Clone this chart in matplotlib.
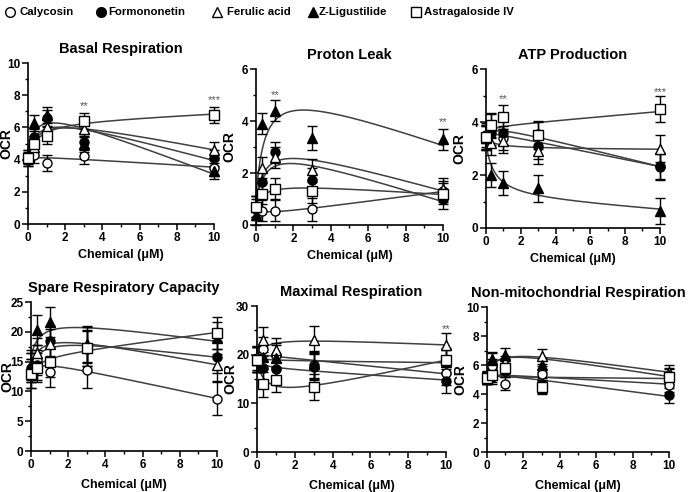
import numpy as np
import matplotlib
matplotlib.use("Agg")
import matplotlib.pyplot as plt
from matplotlib.lines import Line2D
from matplotlib.ticker import MultipleLocator

plt.rcParams['font.family'] = ['Liberation Sans', 'DejaVu Sans']
plt.rcParams['font.weight'] = 'bold'

# concentrations (uM)
conc = [0, 0.3, 1, 3, 10]
compounds = ["Calycosin", "Formononetin", "Ferulic acid", "Z-Ligustilide", "Astragaloside IV"]

# mean OCR per panel, rows follow `compounds`
basal = [[4.0, 4.3, 3.8, 4.2, 3.5],
         [4.0, 5.4, 6.6, 5.1, 4.1],
         [4.2, 4.8, 6.0, 5.9, 4.6],
         [4.2, 6.3, 6.8, 5.0, 3.3],
         [4.1, 5.0, 5.5, 6.4, 6.8]]
basal_err = [0.4, 0.5, 0.5, 0.5, 0.5]

proton = [[0.6, 0.55, 0.55, 0.6, 1.3],
          [0.7, 1.65, 2.8, 1.75, 1.0],
          [0.7, 2.2, 2.6, 2.1, 1.4],
          [0.4, 3.9, 4.4, 3.35, 3.3],
          [0.7, 1.2, 1.4, 1.3, 1.2]]
proton_err = [0.4, 0.4, 0.4, 0.45, 0.4]

atp = [[3.45, 3.85, 3.4, 3.55, 2.3],
       [3.5, 3.6, 3.6, 3.1, 2.35],
       [3.4, 3.2, 3.3, 2.9, 3.0],
       [3.4, 2.0, 1.7, 1.5, 0.65],
       [3.45, 3.9, 4.2, 3.5, 4.5]]
atp_err = [0.45, 0.45, 0.45, 0.5, 0.5]

spare = [[13.0, 15.3, 13.3, 13.6, 8.8],
         [14.0, 14.5, 18.5, 17.2, 15.8],
         [14.0, 16.5, 18.0, 17.8, 14.5],
         [14.5, 20.3, 21.7, 18.0, 19.0],
         [13.0, 14.0, 15.0, 17.3, 19.8]]
spare_err = [2.5, 2.5, 2.5, 3.0, 2.7]

maximal = [[19.3, 21.2, 19.9, 17.8, 16.3],
           [19.0, 17.2, 17.0, 17.5, 14.6],
           [19.0, 23.1, 20.9, 23.1, 22.0],
           [19.0, 19.5, 19.4, 18.0, 18.5],
           [19.0, 13.9, 14.8, 13.4, 18.9]]
maximal_err = [2.5, 2.5, 2.5, 2.7, 2.5]

nonmito = [[5.1, 5.9, 4.7, 5.4, 4.65],
           [5.1, 5.2, 5.6, 4.6, 3.9],
           [5.1, 6.35, 6.2, 6.6, 5.5],
           [5.2, 6.4, 6.7, 6.0, 5.3],
           [5.1, 5.3, 5.8, 4.5, 5.2]]
nonmito_err = [0.4, 0.5, 0.45, 0.5, 0.5]

# significance marks: (x, y, text)
basal_sig = [(3, 7.3, "**"), (10, 7.7, "***")]
proton_sig = [(1, 5.0, "**"), (10, 3.95, "**")]
atp_sig = [(1, 4.85, "**"), (10, 5.15, "***")]
maximal_sig = [(10, 25.3, "**")]

styles = [dict(marker='o', mfc='white'),
          dict(marker='o', mfc='black'),
          dict(marker='^', mfc='white'),
          dict(marker='^', mfc='black'),
          dict(marker='s', mfc='white')]

W, H = 690, 492


def fit_curve(x, y):
    # saturating + linear trend, least squares
    x = np.asarray(x, float)
    y = np.asarray(y, float)
    k = 0.5
    A = np.column_stack([np.ones_like(x), x / (k + x), x])
    coef = np.linalg.lstsq(A, y, rcond=None)[0]
    xs = np.linspace(0, 10, 300)
    ys = coef[0] + coef[1] * xs / (k + xs) + coef[2] * xs
    return xs, ys


def panel(rect, title, data, err, ymax, ymajor, yminor, sig=(), xlabpad=4, ylab_off=20):
    ax = fig.add_axes(rect)
    for i, row in enumerate(data):
        xs, ys = fit_curve(conc, row)
        ax.plot(xs, ys, color='#404040', lw=1.1, zorder=2, clip_on=False)
    for i, row in enumerate(data):
        ax.errorbar(conc, row, yerr=err, fmt='none', ecolor='black',
                    elinewidth=1.0, capsize=3.5, capthick=1.0, zorder=3, clip_on=False)
        ax.plot(conc, row, ls='none', mec='black', mew=1.0, ms=6.5,
                zorder=4, clip_on=False, **styles[i])
    for x, y, t in sig:
        ax.text(x, y, t, ha='center', va='center', fontsize=8, color='#555555',
                fontweight='normal')
    ax.set_xlim(0, 10)
    ax.set_ylim(0, ymax)
    ax.xaxis.set_major_locator(MultipleLocator(2))
    ax.xaxis.set_minor_locator(MultipleLocator(1))
    ax.yaxis.set_major_locator(MultipleLocator(ymajor))
    ax.yaxis.set_minor_locator(MultipleLocator(yminor))
    for s in ['top', 'right']:
        ax.spines[s].set_visible(False)
    for s in ['left', 'bottom']:
        ax.spines[s].set_linewidth(1.2)
    ax.tick_params(which='major', length=4, width=1.1, labelsize=8.5, pad=1.5)
    ax.tick_params(which='minor', length=2.5, width=1.0)
    for lb in ax.get_xticklabels() + ax.get_yticklabels():
        lb.set_fontweight('bold')
    ax.set_title(title, fontsize=10.5, fontweight='bold', pad=7)
    ax.set_ylabel("OCR", fontsize=10, fontweight='bold')
    ax.yaxis.set_label_coords(-float(ylab_off) / (rect[2] * W), 0.5)
    ax.set_xlabel("Chemical (\u03bcM)", fontsize=9, fontweight='bold', labelpad=xlabpad)
    return ax


fig = plt.figure(figsize=(6.9, 4.92), dpi=100)

panel([0.0406, 0.5447, 0.2696, 0.327], "Basal Respiration", basal, basal_err, 10, 2, 1, basal_sig,
      ylab_off=15)
panel([0.371, 0.5427, 0.271, 0.317], "Proton Leak", proton, proton_err, 6, 2, 1, proton_sig)
panel([0.7043, 0.5366, 0.252, 0.323], "ATP Production", atp, atp_err, 6, 2, 1, atp_sig)
panel([0.0449, 0.0833, 0.2696, 0.3028], "Spare Respiratory Capacity", spare, spare_err, 25, 5, 2.5,
      xlabpad=6, ylab_off=17)
panel([0.3725, 0.0813, 0.274, 0.2967], "Maximal Respiration", maximal, maximal_err, 30, 10, 5, maximal_sig,
      xlabpad=6)
panel([0.7058, 0.0813, 0.2638, 0.2947], "Non-mitochondrial Respiration", nonmito, nonmito_err, 10, 2, 1,
      xlabpad=6)

# legend row along the top
leg_marker_x = [10, 101, 217, 313, 416]
leg_text_x = [19, 108, 227, 319, 424]
for i, name in enumerate(compounds):
    fig.add_artist(Line2D([leg_marker_x[i] / W], [1 - 12 / H], ls='none', mec='black',
                          mew=1.0, ms=7, transform=fig.transFigure, **styles[i]))
    fig.text(leg_text_x[i] / W, 1 - 12 / H, name, ha='left', va='center', fontsize=8.2,
             fontweight='bold')

fig.savefig("out.png", dpi=100)
